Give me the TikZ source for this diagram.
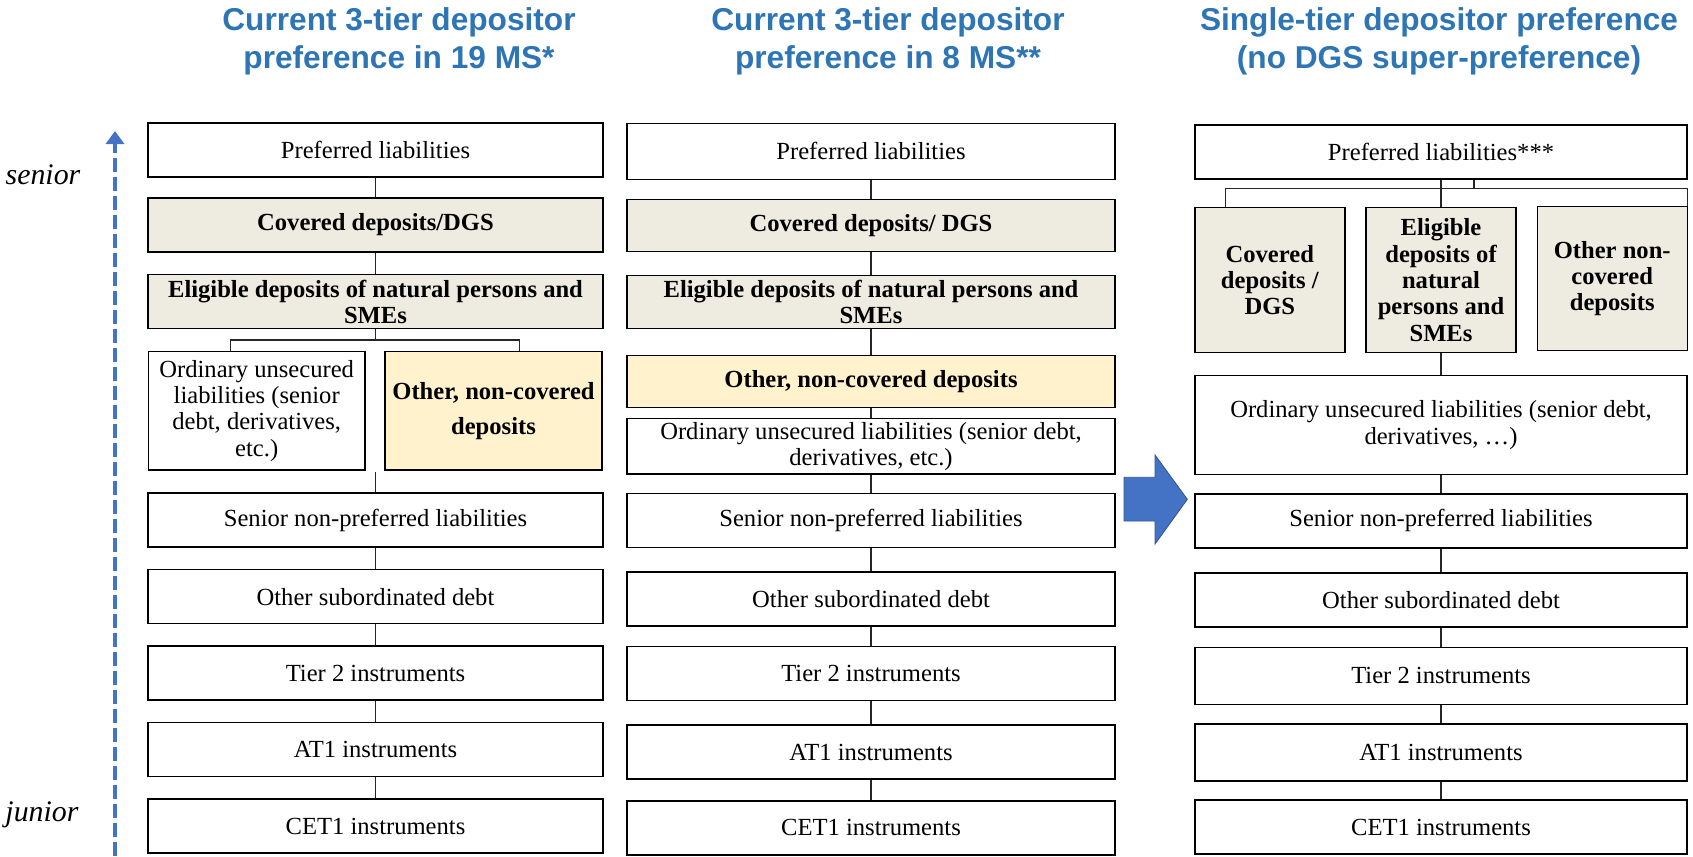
\documentclass[tikz,border=0pt]{standalone}
\usepackage{fontspec}
\setmainfont{Liberation Serif}
\newfontfamily\titlefont{Liberation Sans}
\usetikzlibrary{arrows.meta, positioning}
\definecolor{titleblue}{RGB}{46,117,182}
\definecolor{arrowblue}{RGB}{68,114,196}
\definecolor{depgray}{RGB}{238,236,225}
\definecolor{depyellow}{RGB}{255,242,204}

\begin{document}
\begin{tikzpicture}[
    x=0.02cm, y=-0.02cm,
    tier/.style={rectangle, draw=black, line width=0.8pt, fill=white, minimum width=#1, minimum height=1.08cm, inner sep=2pt, align=center, font=\fontsize{14}{15}\selectfont},
    deposit/.style={tier=#1, fill=depgray, font=\bfseries\fontsize{14}{15}\selectfont},
    uncovered/.style={tier=#1, fill=depyellow, font=\bfseries\fontsize{14}{15}\selectfont},
    title/.style={font=\titlefont\bfseries\fontsize{18}{21.5}\selectfont, text=titleblue, align=center},
    side/.style={font=\itshape\fontsize{17}{19}\selectfont},
    link/.style={draw=black!85, line width=0.6pt},
    rank/.style={-{Triangle[length=0.26cm, width=0.36cm]}, draw=arrowblue, line width=2.1pt, dash pattern=on 0.28cm off 0.1cm},
    bigarrow/.style={fill=arrowblue, draw=arrowblue!75!black, line width=0.5pt}
]
\useasboundingbox (0,0) rectangle (1693,856);

% Titles
\node[title] (titleL) at (399,41) {Current 3-tier depositor\\preference in 19 MS*};
\node[title] (titleM) at (888,41) {Current 3-tier depositor\\preference in 8 MS**};
\node[title] (titleR) at (1439,41) {Single-tier depositor preference\\(no DGS super-preference)};

% Seniority axis
\node[side] (senior) at (43,175) {senior};
\node[side] (junior) at (42,815) {junior};
\coordinate (rankbot) at (115,856);
\coordinate (ranktop) at (115,131);
\draw[rank] (rankbot) -- (ranktop);

% Column 1: 19 MS
\node[tier=9.1cm] (prefL) at (375.5,150) {Preferred liabilities};
\node[deposit=9.1cm] (covL) at (375.5,225) {Covered deposits/DGS};
\node[deposit=9.1cm] (eligL) at (375.5,301.7) {Eligible deposits of natural persons and\\SMEs};
\node[tier=4.33cm, minimum height=2.37cm] (ordL) at (256.7,410.8) {Ordinary unsecured\\liabilities (senior\\debt, derivatives,\\etc.)};
\node[uncovered=4.34cm, minimum height=2.37cm] (othL) at (493.5,410.8) {Other, non-covered\\[5pt]deposits};
\node[tier=9.1cm] (snpL) at (375.5,520) {Senior non-preferred liabilities};
\node[tier=9.1cm] (subL) at (375.5,596.7) {Other subordinated debt};
\node[tier=9.1cm] (t2L) at (375.5,673) {Tier 2 instruments};
\node[tier=9.1cm] (at1L) at (375.5,749.7) {AT1 instruments};
\node[tier=9.1cm] (cetL) at (375.5,826) {CET1 instruments};

\coordinate (forkL) at (375.5,340);
\coordinate (joinL) at (375.5,472);
\draw[link] (prefL) -- (covL);
\draw[link] (covL) -- (eligL);
\draw[link] (eligL) -- (forkL);
\draw[link] ([xshift=-0.52cm]ordL.north) |- (forkL) -| ([xshift=0.52cm]othL.north);
\draw[link] (joinL) -- (snpL);
\draw[link] (snpL) -- (subL);
\draw[link] (subL) -- (t2L);
\draw[link] (t2L) -- (at1L);
\draw[link] (at1L) -- (cetL);

% Column 2: 8 MS
\node[tier=9.76cm, minimum height=1.12cm] (prefM) at (871,151.3) {Preferred liabilities};
\node[deposit=9.76cm, minimum height=1.05cm] (covM) at (871,225.5) {Covered deposits/ DGS};
\node[deposit=9.76cm, minimum height=1.05cm] (eligM) at (871,302) {Eligible deposits of natural persons and\\SMEs};
\node[uncovered=9.76cm, minimum height=1.04cm] (othM) at (871,381.7) {Other, non-covered deposits};
\node[tier=9.76cm, minimum height=1.05cm] (ordM) at (871,446.3) {Ordinary unsecured liabilities (senior debt,\\derivatives, etc.)};
\node[tier=9.76cm] (snpM) at (871,520.3) {Senior non-preferred liabilities};
\node[tier=9.76cm] (subM) at (871,599) {Other subordinated debt};
\node[tier=9.76cm] (t2M) at (871,673.7) {Tier 2 instruments};
\node[tier=9.76cm] (at1M) at (871,752) {AT1 instruments};
\node[tier=9.76cm] (cetM) at (871,827.8) {CET1 instruments};

\draw[link] (prefM) -- (covM);
\draw[link] (covM) -- (eligM);
\draw[link] (eligM) -- (othM);
\draw[link] (othM) -- (ordM);
\draw[link] (ordM) -- (snpM);
\draw[link] (snpM) -- (subM);
\draw[link] (subM) -- (t2M);
\draw[link] (t2M) -- (at1M);
\draw[link] (at1M) -- (cetM);

% Transition arrow
\filldraw[bigarrow] (1124,477.3) -- (1155,477.3) -- (1155,455) -- (1187.3,499.3) -- (1155,544) -- (1155,521) -- (1124,521) -- cycle;

% Column 3: single tier
\node[tier=9.84cm] (prefR) at (1441,152) {Preferred liabilities***};
\node[deposit=3cm, minimum height=2.9cm] (covR) at (1269.8,280.2) {Covered\\deposits /\\DGS};
\node[deposit=3cm, minimum height=2.9cm] (eligR) at (1441,280.2) {Eligible\\deposits of\\natural\\persons and\\SMEs};
\node[deposit=3cm, minimum height=2.88cm] (othR) at (1612.2,278.7) {Other non-\\covered\\deposits};
\node[tier=9.84cm, minimum height=1.97cm] (ordR) at (1441,425) {Ordinary unsecured liabilities (senior debt,\\derivatives, …)};
\node[tier=9.84cm] (snpR) at (1441,520.8) {Senior non-preferred liabilities};
\node[tier=9.84cm] (subR) at (1441,600) {Other subordinated debt};
\node[tier=9.84cm, minimum height=1.14cm] (t2R) at (1441,675.8) {Tier 2 instruments};
\node[tier=9.84cm, minimum height=1.14cm] (at1R) at (1441,752.5) {AT1 instruments};
\node[tier=9.84cm] (cetR) at (1441,827) {CET1 instruments};

\coordinate (forkR) at (1441,188.3);
\draw[link] (prefR) -- (eligR);
\draw[link] ([xshift=0.66cm]prefR.south) |- (forkR);
\draw[link] ([xshift=-0.886cm]covR.north) |- (forkR) -| (othR.north east);
\draw[link] (eligR) -- (ordR);
\draw[link] (ordR) -- (snpR);
\draw[link] (snpR) -- (subR);
\draw[link] (subR) -- (t2R);
\draw[link] (t2R) -- (at1R);
\draw[link] (at1R) -- (cetR);

\end{tikzpicture}
\end{document}
